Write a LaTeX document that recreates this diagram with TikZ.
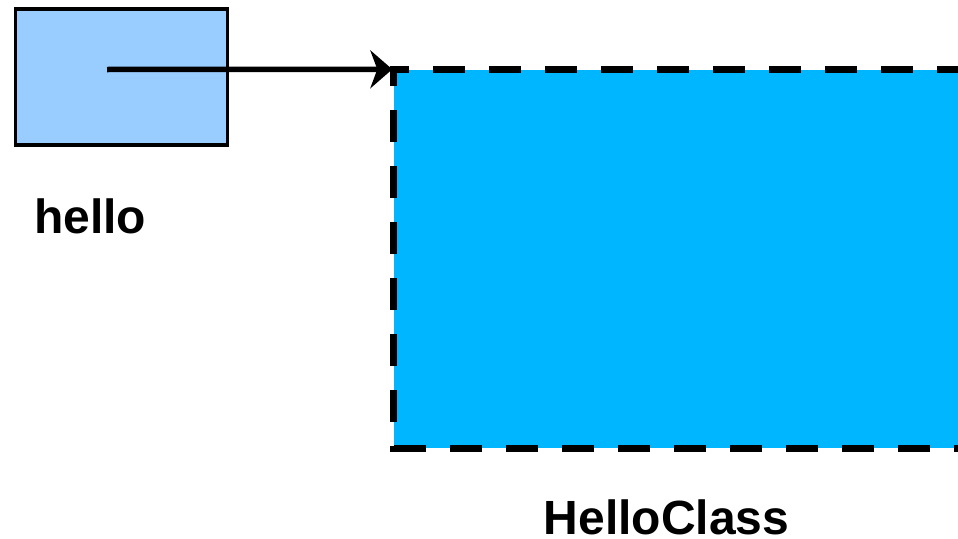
\documentclass[tikz,border=0pt]{standalone}
\usepackage{fontspec}
\setmainfont{Liberation Sans}
\usetikzlibrary{arrows.meta}
\definecolor{smallfill}{RGB}{153,204,255}
\definecolor{bigfill}{RGB}{0,182,255}
\begin{document}
\begin{tikzpicture}[x=1pt,y=-1pt,
  lbl/.style={inner sep=0pt, anchor=base west, font=\fontsize{48}{56}\selectfont\bfseries},
  varbox/.style={draw=black, line width=3.5pt, fill=smallfill, rectangle, inner sep=0pt, minimum width=212pt, minimum height=136pt},
  objbox/.style={fill=bigfill, draw=none, rectangle, inner sep=0pt, minimum width=606.5pt, minimum height=378.5pt},
  dashside/.style={line width=7pt, dash pattern=on 32pt off 24pt},
  ptr/.style={line width=5.5pt, -{Stealth[length=22pt, width=38pt, inset=7pt]}}
]
\useasboundingbox (0,0) rectangle (958,538);
\clip (0,0) rectangle (958,538);
% big object rectangle
\node[objbox] (bigrect) at (696.75,258.75) {};
\draw[dashside, dash phase=13pt] ([xshift=-3.5pt]bigrect.north west) -- (bigrect.north east);
\draw[dashside, dash phase=12pt] ([yshift=3.5pt]bigrect.north west) -- ([yshift=-3.5pt]bigrect.south west);
\draw[dashside] ([xshift=0.5pt]bigrect.south west) -- (bigrect.south east);
% variable box
\node[varbox] (hellobox) at (121.5,77) {};
\coordinate (start) at (107,69.5);
\draw[ptr] (start) -- ([xshift=-1pt]bigrect.north west);
% labels
\node[lbl] (hellolbl) at (34,233) {hello};
\node[lbl] (classlbl) at (543.5,534) {HelloClass};
\end{tikzpicture}
\end{document}
